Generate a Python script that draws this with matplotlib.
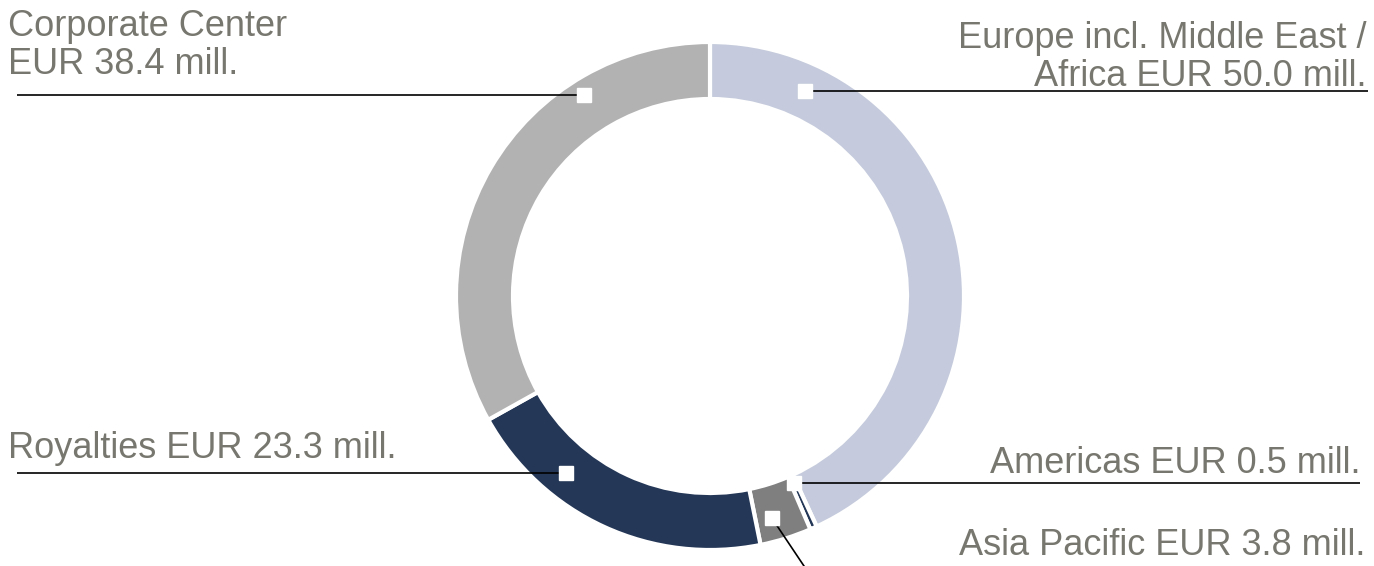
import numpy as np
import matplotlib
matplotlib.use('Agg')
import matplotlib.pyplot as plt

plt.rcParams['font.family'] = ['Liberation Sans', 'DejaVu Sans']

# data
segments = ['Europe incl. Middle East /\nAfrica', 'Americas', 'Asia Pacific', 'Royalties', 'Corporate Center']
values = [50.0, 0.5, 3.8, 23.3, 38.4]
colors = ['#c5cbdc', '#243757', '#7f7f7f', '#243757', '#b2b2b2']

W, H = 1374, 566
fig = plt.figure(figsize=(W / 100, H / 100), dpi=100)
ax = fig.add_axes([0, 0, 1, 1])

cx, cy = 710, H - 296
R = 254
ring = 57

ax.pie(values, colors=colors, startangle=90, counterclock=False,
       center=(cx, cy), radius=R, frame=True,
       wedgeprops=dict(width=ring, edgecolor='white', linewidth=3))
ax.set_xlim(0, W)
ax.set_ylim(0, H)
ax.set_aspect('equal')
ax.axis('off')

# anchor position along each wedge (fraction of wedge angle, radius)
anchor_frac = [0.16, 0.35, 0.65, 0.70, 0.73]
anchor_r = [226, 205, 231, 228, 237]
# where the leader line ends (x, y from top)
line_end = [(1368, None), (1360, None), (808, 572), (17, None), (17, None)]
# label placement: x, baseline (last line) y from top, alignment
label_pos = [(1366, 86, 'right'), (1361, 473, 'right'), (1365, 555, 'right'),
             (8, 458, 'left'), (8, 74, 'left')]
label_text = ['Europe incl. Middle East /\nAfrica EUR {:.1f} mill.',
              'Americas EUR {:.1f} mill.',
              'Asia Pacific EUR {:.1f} mill.',
              'Royalties EUR {:.1f} mill.',
              'Corporate Center\nEUR {:.1f} mill.']

total = sum(values)
cum = np.concatenate([[0], np.cumsum(values)])
for i, v in enumerate(values):
    start = 90 - 360 * cum[i] / total
    end = 90 - 360 * cum[i + 1] / total
    ang = np.radians(start + anchor_frac[i] * (end - start))
    mx = cx + anchor_r[i] * np.cos(ang)
    my = cy + anchor_r[i] * np.sin(ang)
    ex, ey = line_end[i]
    ey = my if ey is None else H - ey
    ax.plot([mx, ex], [my, ey], color='black', lw=1.2, zorder=3, solid_capstyle='butt')
    ax.plot(mx, my, marker='s', ms=10, color='white', mec='white', zorder=4)
    lx, ly, ha = label_pos[i]
    ax.text(lx, H - ly, label_text[i].format(v), ha=ha, va='baseline',
            fontsize=26, color='#78776f', linespacing=1.12, zorder=5)

fig.savefig('out.png', dpi=100)
